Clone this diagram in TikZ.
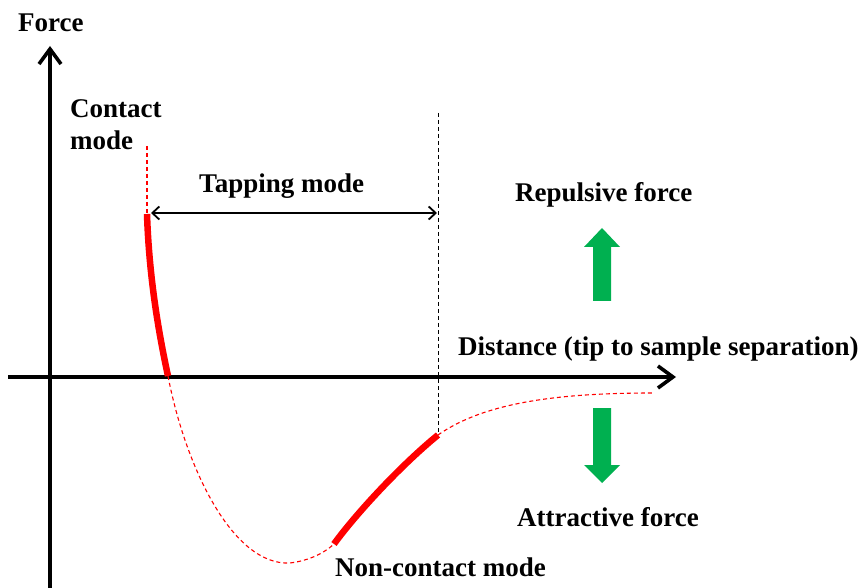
\documentclass[tikz,border=0pt]{standalone}
\usepackage{fontspec}
\setmainfont{Liberation Serif}
\usetikzlibrary{arrows.meta}
\definecolor{forcegreen}{HTML}{00B050}
\begin{document}
\begin{tikzpicture}[x=1pt,y=-1pt,
  lbl/.style={inner sep=0pt,anchor=base west,font=\fontsize{27}{30}\selectfont\bfseries},
  axis/.style={line width=3.6pt,-{Straight Barb[length=15pt,width=22pt]}},
  solidpart/.style={red,line width=6.5pt},
  dashpart/.style={red,line width=1.1pt,dash pattern=on 4pt off 3pt},
  greenarrow/.style={fill=forcegreen,draw=none}]
\useasboundingbox (0,0) rectangle (868,588);

% axes
\coordinate (yb) at (50,588);
\coordinate (yt) at (50,46);
\coordinate (xl) at (8,377);
\coordinate (xr) at (676,377);
\draw[axis] (yb) -- (yt);
\draw[axis] (xl) -- (xr);

% force--distance curve
\coordinate (ctop) at (147,146);
\coordinate (cs) at (147,214);
\coordinate (cx) at (168,376);
\coordinate (cmin) at (290,563);
\coordinate (ncs) at (334,544);
\coordinate (nce) at (438,435);
\coordinate (cend) at (653,393);
\draw[dashpart] (ctop) -- (cs);
\draw[solidpart] (cs) .. controls (149,275) and (158,330) .. (cx);
\draw[dashpart] (cx) .. controls (185,465) and (232,566) .. (cmin)
                     .. controls (306,561) and (322,555) .. (ncs);
\draw[solidpart] (ncs) .. controls (355,515) and (400,466) .. (nce);
\draw[dashpart] (nce) .. controls (485,402) and (560,393) .. (cend);

% tapping range
\coordinate (vt) at (438,113);
\draw[dashed,line width=0.8pt,dash pattern=on 4pt off 3pt] (vt) -- (nce);
\coordinate (tl) at (151,213);
\coordinate (tr) at (437,213);
\draw[line width=1.8pt,{Straight Barb[length=7pt,width=13pt]}-{Straight Barb[length=7pt,width=13pt]}] (tl) -- (tr);

% force direction arrows
\fill[greenarrow] (593,301) -- (593,247) -- (584,247) -- (602,228) -- (620,247) -- (611,247) -- (611,301) -- cycle;
\fill[greenarrow] (593,408) -- (593,465) -- (584,465) -- (602,483) -- (620,465) -- (611,465) -- (611,408) -- cycle;

% labels
\node[lbl] (force) at (18,32) {Force};
\node[lbl] (contact1) at (70,118) {Contact};
\node[lbl] (contact2) at (70,150) {mode};
\node[lbl] (tapping) at (199,193) {Tapping mode};
\node[lbl] (repulsive) at (515,202) {Repulsive force};
\node[lbl] (distance) at (458,355) {Distance (tip to sample separation)};
\node[lbl] (attractive) at (517,526) {Attractive force};
\node[lbl] (noncontact) at (335,576) {Non-contact mode};
\end{tikzpicture}
\end{document}
